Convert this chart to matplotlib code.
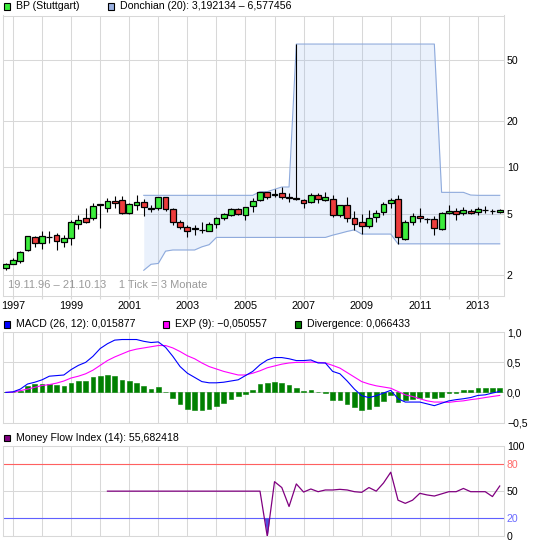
import matplotlib
matplotlib.use('Agg')
import matplotlib.pyplot as plt
from matplotlib.patches import Rectangle
from matplotlib.ticker import NullLocator
import numpy as np
import pandas as pd

plt.rcParams['font.family'] = ['Liberation Sans', 'DejaVu Sans']
plt.rcParams['font.size'] = 7.6

# BP (Stuttgart), quarterly candles ("1 Tick = 3 Monate"), first one Q4 1996
first_quarter = 1996.75
opens = [2.21, 2.36, 2.45, 2.89, 3.51, 3.21, 3.53, 3.63, 3.26, 3.46,
         4.26, 4.66, 4.66, 5.72, 5.42, 6.07, 6.13, 5.07, 5.70, 5.95,
         5.42, 5.42, 6.38, 5.33, 4.39, 4.12, 3.96, 3.92, 3.88, 4.26,
         4.66, 4.90, 5.33, 4.90, 5.61, 6.10, 6.90, 6.60, 6.78, 6.45,
         6.35, 6.13, 6.00, 6.60, 6.13, 6.22, 4.90, 5.66, 4.66, 4.39,
         4.14, 4.73, 5.15, 5.83, 6.19, 3.42, 4.44, 4.85, 4.62, 4.59,
         3.96, 5.02, 5.18, 5.02, 5.20, 5.10, 5.30, 5.22, 5.15]
highs = [2.38, 2.59, 2.86, 3.60, 3.60, 3.84, 3.84, 3.73, 3.63, 4.55,
         4.90, 5.42, 5.83, 5.80, 6.28, 6.50, 6.55, 5.90, 6.58, 6.20,
         5.70, 6.45, 6.40, 5.42, 4.55, 4.22, 4.22, 4.44, 4.44, 4.78,
         5.07, 5.45, 5.45, 5.55, 6.28, 6.95, 6.95, 7.20, 7.45, 6.78,
         63.0, 6.19, 6.78, 6.80, 6.88, 6.61, 5.69, 6.38, 5.23, 4.97,
         5.28, 5.28, 5.98, 6.28, 6.58, 4.55, 5.07, 5.42, 4.71, 4.80,
         5.15, 5.69, 5.42, 5.55, 5.33, 5.55, 5.61, 5.33, 5.36]
lows = [2.15, 2.35, 2.38, 2.86, 3.05, 2.96, 3.21, 2.91, 3.05, 3.15,
        3.96, 4.33, 4.55, 4.02, 5.15, 5.42, 5.00, 5.00, 5.28, 4.85,
        5.15, 5.28, 5.20, 4.20, 4.00, 3.51, 3.63, 3.73, 3.84, 4.02,
        4.55, 4.85, 4.90, 4.55, 5.15, 6.07, 6.19, 6.45, 6.19, 5.98,
        6.15, 5.42, 5.89, 5.89, 6.07, 4.78, 4.78, 4.44, 3.93, 3.69,
        4.02, 4.44, 4.90, 5.42, 3.19, 3.37, 4.22, 4.44, 4.33, 3.63,
        3.92, 4.98, 4.55, 4.90, 4.98, 4.90, 5.02, 4.98, 5.07]
closes = [2.35, 2.49, 2.81, 3.56, 3.21, 3.60, 3.51, 3.32, 3.46, 4.39,
          4.55, 4.39, 5.61, 5.76, 6.07, 5.85, 5.07, 5.75, 5.95, 5.50,
          5.40, 6.38, 5.35, 4.44, 4.12, 3.84, 4.06, 3.90, 4.26, 4.66,
          4.95, 5.33, 5.00, 5.55, 6.07, 6.92, 6.45, 6.75, 6.45, 6.28,
          6.19, 5.90, 6.60, 6.20, 6.38, 4.90, 5.66, 4.66, 4.28, 4.14,
          4.66, 5.09, 5.80, 6.13, 3.51, 4.44, 4.85, 4.66, 4.59, 4.06,
          5.07, 5.20, 4.95, 5.25, 5.02, 5.33, 5.26, 5.19, 5.30]

# MACD (26, 12), EXP (9) and divergence, one value per candle
macd = [0.0, 0.01, 0.055, 0.14, 0.17, 0.21, 0.27, 0.28, 0.29, 0.38,
        0.45, 0.50, 0.60, 0.73, 0.81, 0.87, 0.88, 0.88, 0.88, 0.85,
        0.83, 0.84, 0.75, 0.60, 0.43, 0.32, 0.25, 0.18, 0.16, 0.16,
        0.17, 0.19, 0.21, 0.28, 0.35, 0.46, 0.54, 0.58, 0.58, 0.56,
        0.53, 0.53, 0.54, 0.49, 0.49, 0.35, 0.31, 0.19, 0.055, -0.055,
        -0.085, -0.055, -0.01, 0.035, -0.105, -0.16, -0.16, -0.16, -0.19, -0.22,
        -0.18, -0.14, -0.12, -0.105, -0.085, -0.05, -0.04, -0.01, 0.016]
signal = [0.0, 0.005, 0.03, 0.055, 0.085, 0.115, 0.13, 0.155, 0.19, 0.24,
          0.27, 0.31, 0.37, 0.45, 0.53, 0.59, 0.64, 0.69, 0.72, 0.74,
          0.76, 0.78, 0.78, 0.74, 0.68, 0.61, 0.56, 0.49, 0.43, 0.39,
          0.35, 0.32, 0.29, 0.29, 0.32, 0.36, 0.41, 0.44, 0.47, 0.49,
          0.50, 0.50, 0.505, 0.50, 0.49, 0.45, 0.405, 0.33, 0.255, 0.18,
          0.14, 0.11, 0.09, 0.07, 0.015, -0.04, -0.067, -0.105, -0.14, -0.16,
          -0.16, -0.165, -0.15, -0.14, -0.12, -0.105, -0.085, -0.067, -0.05]
divergence = [0.0, 0.005, 0.03, 0.11, 0.14, 0.145, 0.14, 0.13, 0.105, 0.155,
              0.195, 0.195, 0.25, 0.28, 0.295, 0.28, 0.21, 0.185, 0.16, 0.11,
              0.06, 0.083, 0.005, -0.10, -0.19, -0.28, -0.29, -0.30, -0.27, -0.22,
              -0.17, -0.105, -0.067, -0.022, 0.045, 0.145, 0.165, 0.18, 0.16, 0.13,
              0.08, 0.03, 0.045, 0.005, -0.01, -0.12, -0.12, -0.20, -0.25, -0.30,
              -0.27, -0.22, -0.14, -0.05, -0.16, -0.12, -0.105, -0.085, -0.07, -0.085,
              -0.07, -0.01, -0.01, 0.045, 0.045, 0.075, 0.075, 0.075, 0.07]

# Money Flow Index (14), starts with candle 14
mfi_start = 14
mfi = [50, 50, 50, 50, 50, 50, 50, 50, 50, 50, 50,
       50, 50, 50, 50, 50, 50, 50, 50, 50, 50, 50,
       0, 60.5, 54, 33, 58, 49, 52.4, 49.4, 51.3, 51.3,
       52, 51.3, 49.4, 48.7, 54, 50, 59, 71, 40, 36.5,
       40, 47.6, 45.8, 44.6, 47, 49.4, 49.4, 53, 49.4, 49.4,
       49.4, 44, 55.7]

years = list(range(1997, 2014))
year_labels = [str(y) if y % 2 == 1 else '' for y in years]

GRID = '#d8d8d8'
GREEN = '#3cec3c'
RED = '#ec3c3c'
DON_LINE = '#8eaadc'
W = 545.0

x = first_quarter + 0.25 * np.arange(len(closes))
don_hi = pd.Series(highs).rolling(20).max()
don_lo = pd.Series(lows).rolling(20).min()

fig = plt.figure(figsize=(5.45, 5.45), dpi=100)


def px_axes(left, top, right, bottom):
    return fig.add_axes([left / W, 1 - bottom / W, (right - left) / W, (bottom - top) / W])


def style(ax):
    for s in ax.spines.values():
        s.set_color(GRID)
        s.set_linewidth(0.75)
    ax.set_xlim(1996.666, 2013.88)
    ax.set_xticks(years)
    ax.grid(True, color=GRID, lw=0.75)
    ax.set_axisbelow(True)
    ax.yaxis.tick_right()
    ax.tick_params(axis='y', length=0, pad=2.5, labelsize=7.6)
    ax.tick_params(axis='x', length=0, labelbottom=False)


def legend_item(xpx, ypx, color, label):
    fig.patches.append(Rectangle((xpx / W, 1 - (ypx + 3.2) / W), 6.2 / W, 6.2 / W,
                                 transform=fig.transFigure, facecolor=color,
                                 edgecolor='black', lw=0.8))
    fig.text((xpx + 12) / W, 1 - ypx / W, label, va='center', ha='left', fontsize=7.6)


# --- price panel -------------------------------------------------------
ax1 = px_axes(3.3, 15.5, 503.5, 295.7)
ax1.set_yscale('log')
style(ax1)
ax1.set_ylim(1.47, 96.5)
ax1.yaxis.set_minor_locator(NullLocator())
ax1.set_yticks([2, 5, 10, 20, 50])
ax1.set_yticklabels(['2', '5', '10', '20', '50'])
ax1.set_xticklabels(year_labels)
ax1.tick_params(axis='x', length=2.2, color=GRID, pad=1.5, labelbottom=True, labelsize=7.8)

ax1.fill_between(x, don_lo, don_hi, color=(150/255, 185/255, 240/255), alpha=0.2, lw=0, zorder=1)
ax1.plot(x, don_hi, color=DON_LINE, lw=0.8, zorder=2)
ax1.plot(x, don_lo, color=DON_LINE, lw=0.8, zorder=2)

ax1.vlines(x, lows, highs, color='black', lw=0.8, zorder=3)
for xi, o, c in zip(x, opens, closes):
    col = GREEN if c >= o else RED
    if abs(c - o) < 0.03:
        col = 'black'
    ax1.add_patch(Rectangle((xi - 0.1, min(o, c)), 0.2, abs(c - o),
                            facecolor=col, edgecolor='black', lw=0.9, zorder=4))

ax1.text(0.01, 0.022, '19.11.96 \u2013 21.10.13    1 Tick = 3 Monate', transform=ax1.transAxes,
         color='#9a9a9a', fontsize=8, ha='left', va='bottom')

legend_item(3.5, 6.3, GREEN, 'BP (Stuttgart)')
legend_item(107.5, 6.3, '#9ab0e0', 'Donchian (20): 3,192134 \u2013 6,577456')

# --- MACD panel --------------------------------------------------------
ax2 = px_axes(3.3, 332.3, 503.5, 422.5)
style(ax2)
ax2.set_ylim(-0.5, 1.0)
ax2.set_yticks([-0.5, 0.0, 0.5, 1.0])
ax2.set_yticklabels(['\u22120,5', '0,0', '0,5', '1,0'])
ax2.bar(x, divergence, width=0.16, color='#008000', edgecolor='#008000', lw=0.4, zorder=2)
ax2.plot(x, signal, color='#ff00ff', lw=0.8, zorder=3)
ax2.plot(x, macd, color='#0000ff', lw=0.8, zorder=4)

legend_item(3.5, 324.3, '#0000ff', 'MACD (26, 12): 0,015877')
legend_item(163, 324.3, '#ff00ff', 'EXP (9): \u22120,050557')
legend_item(295, 324.3, '#008000', 'Divergence: 0,066433')

# --- MFI panel ---------------------------------------------------------
ax3 = px_axes(3.3, 446, 503.5, 536.3)
style(ax3)
ax3.set_ylim(0, 100)
ax3.set_yticks([0, 20, 50, 80, 100])
ax3.set_yticklabels(['0', '20', '50', '80', '100'])
ax3.get_yticklabels()[1].set_color('#6a6aff')
ax3.get_yticklabels()[3].set_color('#ff6a6a')
xm = x[mfi_start:]
mfi_arr = np.array(mfi, dtype=float)
ax3.axhline(80, color='#ff6060', lw=0.8, zorder=2)
ax3.axhline(20, color='#6060ff', lw=0.8, zorder=2)
ax3.fill_between(xm, mfi_arr, 20, where=mfi_arr < 20, interpolate=True,
                 color='#5050e0', lw=0, zorder=2)
ax3.plot(xm, mfi_arr, color='#800080', lw=0.9, zorder=3)

legend_item(3.5, 437.8, '#800080', 'Money Flow Index (14): 55,682418')

fig.savefig('out.png', dpi=100)
